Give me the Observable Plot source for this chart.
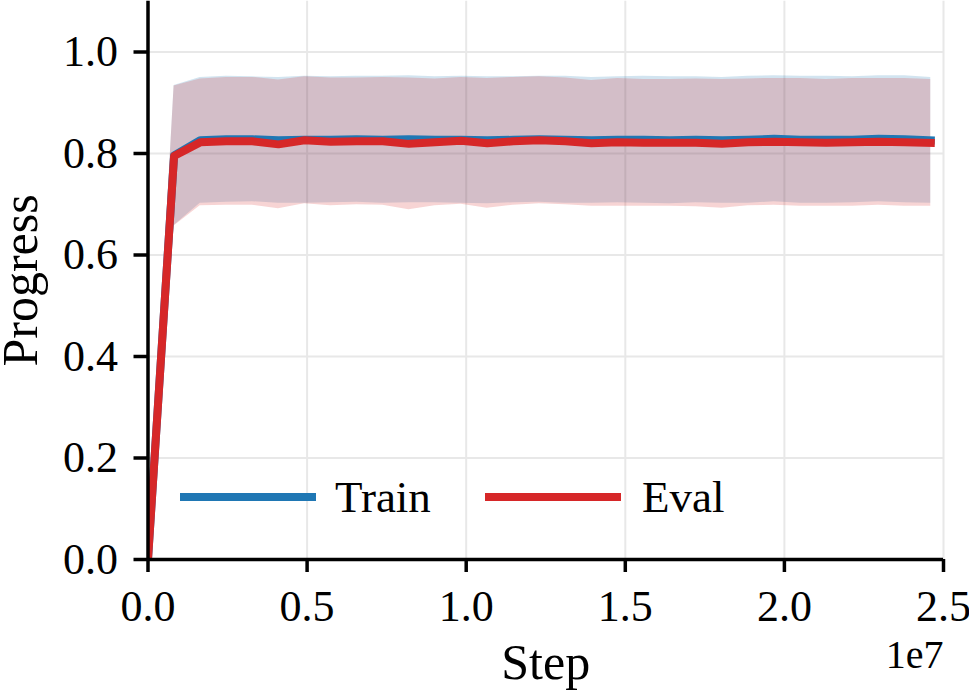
<!DOCTYPE html>
<html><head><meta charset="utf-8">
<script src="https://cdn.jsdelivr.net/npm/d3@7"></script>
<script src="https://cdn.jsdelivr.net/npm/@observablehq/plot@0.6"></script>
<style>
body{margin:0;background:#fff;}
#wrap{position:relative;width:969px;height:692px;font-family:"Liberation Serif","Times New Roman",serif;color:#000;overflow:hidden;}
.sw{position:absolute;height:8px;width:136px;}
.lt{position:absolute;font-size:45px;line-height:45px;white-space:nowrap;}
</style></head><body><div id="wrap"></div>
<script>
const steps = [0, 820000, 1640000, 2460000, 3280000, 4100000, 4920000, 5740000, 6560000, 7380000, 8200000,
  9020000, 9840000, 10660000, 11480000, 12300000, 13120000, 13940000, 14760000, 15580000, 16400000,
  17220000, 18040000, 18860000, 19680000, 20500000, 21320000, 22140000, 22960000, 23780000, 24600000];
const trainMean = [0, 0.796, 0.826, 0.828, 0.828, 0.826, 0.827, 0.827, 0.828, 0.827, 0.828,
  0.827, 0.827, 0.826, 0.827, 0.828, 0.827, 0.826, 0.827, 0.827, 0.826,
  0.827, 0.826, 0.827, 0.829, 0.827, 0.827, 0.827, 0.829, 0.828, 0.826];
const trainStd = [0, 0.138, 0.124, 0.124, 0.123, 0.124, 0.125, 0.124, 0.124, 0.125, 0.125,
  0.124, 0.125, 0.125, 0.124, 0.124, 0.125, 0.124, 0.124, 0.125, 0.125,
  0.124, 0.124, 0.125, 0.124, 0.125, 0.125, 0.124, 0.124, 0.125, 0.124];
const evalMean = [0, 0.795, 0.822, 0.824, 0.824, 0.818, 0.826, 0.823, 0.824, 0.824, 0.819,
  0.822, 0.825, 0.820, 0.824, 0.826, 0.824, 0.820, 0.822, 0.821, 0.821,
  0.821, 0.819, 0.822, 0.823, 0.822, 0.821, 0.822, 0.823, 0.822, 0.821];
const evalStd = [0, 0.138, 0.125, 0.126, 0.126, 0.127, 0.125, 0.126, 0.125, 0.126, 0.130,
  0.125, 0.125, 0.128, 0.126, 0.125, 0.125, 0.124, 0.126, 0.125, 0.125,
  0.126, 0.127, 0.125, 0.125, 0.126, 0.125, 0.126, 0.125, 0.126, 0.125];
const xTicks = [0, 5000000, 10000000, 15000000, 20000000, 25000000];
const xTickLabels = ["0.0", "0.5", "1.0", "1.5", "2.0", "2.5"];
const yTicks = [0, 0.2, 0.4, 0.6, 0.8, 1.0];
const yTickLabels = ["0.0", "0.2", "0.4", "0.6", "0.8", "1.0"];
const seriesNames = ["Train", "Eval"];
const seriesColors = ["#1f77b4", "#d62728"];

const rows = (mean, std) => steps.map((s, i) => ({step: s, mean: mean[i], lo: mean[i] - std[i], hi: mean[i] + std[i]}));
const train = rows(trainMean, trainStd);
const evalR = rows(evalMean, evalStd);

const FONT = "'Liberation Serif', 'Times New Roman', serif";
const chart = Plot.plot({
  width: 969, height: 692,
  marginLeft: 147.5, marginRight: 26, marginTop: 0.75, marginBottom: 133,
  style: {fontFamily: FONT, fontSize: "44px", color: "#000", background: "#fff", overflow: "visible"},
  x: {domain: [0, 25000000], axis: null},
  y: {domain: [0, 1.1], axis: null},
  marks: [
    Plot.gridY(yTicks, {stroke: "#e8e8e8", strokeOpacity: 1, strokeWidth: 2}),
    Plot.gridX(xTicks, {stroke: "#e8e8e8", strokeOpacity: 1, strokeWidth: 2}),
    Plot.areaY(train, {x: "step", y1: "lo", y2: "hi", fill: seriesColors[0], fillOpacity: 0.2, clip: true}),
    Plot.areaY(evalR, {x: "step", y1: "lo", y2: "hi", fill: seriesColors[1], fillOpacity: 0.2, clip: true}),
    Plot.lineY(train, {x: "step", y: "mean", stroke: seriesColors[0], strokeWidth: 8, strokeLinecap: "square", strokeLinejoin: "round", clip: true}),
    Plot.lineY(evalR, {x: "step", y: "mean", stroke: seriesColors[1], strokeWidth: 8, strokeLinecap: "square", strokeLinejoin: "round", clip: true}),
    Plot.ruleX([0], {stroke: "#000", strokeWidth: 3.5}),
    Plot.ruleY([0], {stroke: "#000", strokeWidth: 3.5}),
    Plot.axisY(yTicks, {tickSize: 14, tickPadding: 16, strokeWidth: 3.5, stroke: "#000", fill: "#000",
      tickFormat: (d) => yTickLabels[yTicks.indexOf(d)], fontSize: 44, label: null}),
    Plot.axisX(xTicks, {tickSize: 13, tickPadding: 17, strokeWidth: 3.5, stroke: "#000", fill: "#000",
      tickFormat: (d) => xTickLabels[xTicks.indexOf(d)], fontSize: 44, label: null}),
    Plot.text(["Step"], {frameAnchor: "bottom", textAnchor: "middle", lineAnchor: "top", dy: 84, fontSize: 50, fill: "#000"}),
    Plot.text(["Progress"], {frameAnchor: "left", textAnchor: "middle", lineAnchor: "top", rotate: -90, dx: -147, fontSize: 50, fill: "#000"}),
    Plot.text(["1e7"], {frameAnchor: "bottom-right", textAnchor: "end", lineAnchor: "top", dy: 80, fontSize: 40, fill: "#000"})
  ]
});
const wrap = document.getElementById("wrap");
wrap.appendChild(chart);
// legend
const legendPos = [{sw: 180, tx: 335}, {sw: 485, tx: 642}];
seriesNames.forEach((name, i) => {
  const sw = document.createElement("div");
  sw.className = "sw";
  sw.style.left = legendPos[i].sw + "px";
  sw.style.top = "493px";
  sw.style.background = seriesColors[i];
  wrap.appendChild(sw);
  const t = document.createElement("div");
  t.className = "lt";
  t.style.left = legendPos[i].tx + "px";
  t.style.top = "475px";
  t.textContent = name;
  wrap.appendChild(t);
});
</script>
</body></html>
